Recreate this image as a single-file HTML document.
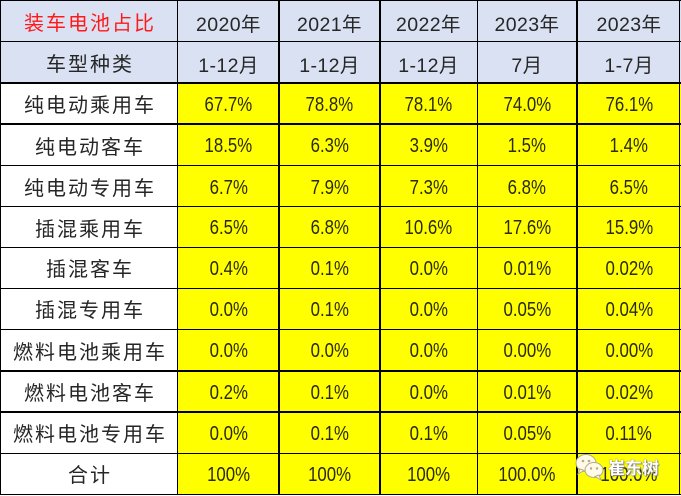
<!DOCTYPE html>
<html><head><meta charset="utf-8">
<style>
html,body{margin:0;padding:0;background:#fff;}
#wrap{position:relative;width:681px;height:496px;overflow:hidden;background:#fff;}
.c{position:absolute;display:flex;align-items:center;justify-content:center;box-sizing:border-box;padding-top:3px;}
.h{background:#D9E1F2;}
.y{background:#FFFF00;}
.w{background:#fff;}
.lab{font-family:"Liberation Sans","Noto Sans CJK SC",sans-serif;font-size:20px;letter-spacing:2px;padding-left:2px;padding-top:0;color:#262626;}
.red{color:#FF1A1A;padding-top:2px;}
.hd{font-family:"Liberation Sans","Noto Sans CJK SC",sans-serif;font-size:19.5px;letter-spacing:0.4px;color:#262626;}
.n{font-family:"Liberation Sans","Noto Sans CJK SC",sans-serif;font-size:20px;color:#2a2a10;}
.n span{display:inline-block;transform:scaleX(0.84);}
.l{position:absolute;background:#000;}
</style></head><body><div id="wrap">
<!-- header row 1 -->
<div class="c h lab red" style="left:0;top:0;width:178px;height:41px;">装车电池占比</div>
<div class="c h hd" style="left:178px;top:0;width:101px;height:41px;">2020年</div>
<div class="c h hd" style="left:279px;top:0;width:101px;height:41px;">2021年</div>
<div class="c h hd" style="left:380px;top:0;width:97px;height:41px;">2022年</div>
<div class="c h hd" style="left:477px;top:0;width:100px;height:41px;">2023年</div>
<div class="c h hd" style="left:577px;top:0;width:104px;height:41px;">2023年</div>
<!-- header row 2 -->
<div class="c h lab" style="left:0;top:41px;width:178px;height:42px;">车型种类</div>
<div class="c h hd" style="left:178px;top:41px;width:101px;height:42px;">1-12月</div>
<div class="c h hd" style="left:279px;top:41px;width:101px;height:42px;">1-12月</div>
<div class="c h hd" style="left:380px;top:41px;width:97px;height:42px;">1-12月</div>
<div class="c h hd" style="left:477px;top:41px;width:100px;height:42px;">7月</div>
<div class="c h hd" style="left:577px;top:41px;width:104px;height:42px;">1-7月</div>

<!-- data rows -->
<div class="c w lab" style="left:0;top:83px;width:178px;height:41px;">纯电动乘用车</div>
<div class="c y n" style="left:178px;top:83px;width:101px;height:41px;"><span>67.7%</span></div>
<div class="c y n" style="left:279px;top:83px;width:101px;height:41px;"><span>78.8%</span></div>
<div class="c y n" style="left:380px;top:83px;width:97px;height:41px;"><span>78.1%</span></div>
<div class="c y n" style="left:477px;top:83px;width:100px;height:41px;"><span>74.0%</span></div>
<div class="c y n" style="left:577px;top:83px;width:104px;height:41px;"><span>76.1%</span></div>

<div class="c w lab" style="left:0;top:124px;width:178px;height:42px;">纯电动客车</div>
<div class="c y n" style="left:178px;top:124px;width:101px;height:42px;"><span>18.5%</span></div>
<div class="c y n" style="left:279px;top:124px;width:101px;height:42px;"><span>6.3%</span></div>
<div class="c y n" style="left:380px;top:124px;width:97px;height:42px;"><span>3.9%</span></div>
<div class="c y n" style="left:477px;top:124px;width:100px;height:42px;"><span>1.5%</span></div>
<div class="c y n" style="left:577px;top:124px;width:104px;height:42px;"><span>1.4%</span></div>

<div class="c w lab" style="left:0;top:166px;width:178px;height:41px;">纯电动专用车</div>
<div class="c y n" style="left:178px;top:166px;width:101px;height:41px;"><span>6.7%</span></div>
<div class="c y n" style="left:279px;top:166px;width:101px;height:41px;"><span>7.9%</span></div>
<div class="c y n" style="left:380px;top:166px;width:97px;height:41px;"><span>7.3%</span></div>
<div class="c y n" style="left:477px;top:166px;width:100px;height:41px;"><span>6.8%</span></div>
<div class="c y n" style="left:577px;top:166px;width:104px;height:41px;"><span>6.5%</span></div>

<div class="c w lab" style="left:0;top:207px;width:178px;height:40px;">插混乘用车</div>
<div class="c y n" style="left:178px;top:207px;width:101px;height:40px;"><span>6.5%</span></div>
<div class="c y n" style="left:279px;top:207px;width:101px;height:40px;"><span>6.8%</span></div>
<div class="c y n" style="left:380px;top:207px;width:97px;height:40px;"><span>10.6%</span></div>
<div class="c y n" style="left:477px;top:207px;width:100px;height:40px;"><span>17.6%</span></div>
<div class="c y n" style="left:577px;top:207px;width:104px;height:40px;"><span>15.9%</span></div>

<div class="c w lab" style="left:0;top:247px;width:178px;height:41px;">插混客车</div>
<div class="c y n" style="left:178px;top:247px;width:101px;height:41px;"><span>0.4%</span></div>
<div class="c y n" style="left:279px;top:247px;width:101px;height:41px;"><span>0.1%</span></div>
<div class="c y n" style="left:380px;top:247px;width:97px;height:41px;"><span>0.0%</span></div>
<div class="c y n" style="left:477px;top:247px;width:100px;height:41px;"><span>0.01%</span></div>
<div class="c y n" style="left:577px;top:247px;width:104px;height:41px;"><span>0.02%</span></div>

<div class="c w lab" style="left:0;top:288px;width:178px;height:41px;">插混专用车</div>
<div class="c y n" style="left:178px;top:288px;width:101px;height:41px;"><span>0.0%</span></div>
<div class="c y n" style="left:279px;top:288px;width:101px;height:41px;"><span>0.1%</span></div>
<div class="c y n" style="left:380px;top:288px;width:97px;height:41px;"><span>0.0%</span></div>
<div class="c y n" style="left:477px;top:288px;width:100px;height:41px;"><span>0.05%</span></div>
<div class="c y n" style="left:577px;top:288px;width:104px;height:41px;"><span>0.04%</span></div>

<div class="c w lab" style="left:0;top:329px;width:178px;height:42px;">燃料电池乘用车</div>
<div class="c y n" style="left:178px;top:329px;width:101px;height:42px;"><span>0.0%</span></div>
<div class="c y n" style="left:279px;top:329px;width:101px;height:42px;"><span>0.0%</span></div>
<div class="c y n" style="left:380px;top:329px;width:97px;height:42px;"><span>0.0%</span></div>
<div class="c y n" style="left:477px;top:329px;width:100px;height:42px;"><span>0.00%</span></div>
<div class="c y n" style="left:577px;top:329px;width:104px;height:42px;"><span>0.00%</span></div>

<div class="c w lab" style="left:0;top:371px;width:178px;height:41px;">燃料电池客车</div>
<div class="c y n" style="left:178px;top:371px;width:101px;height:41px;"><span>0.2%</span></div>
<div class="c y n" style="left:279px;top:371px;width:101px;height:41px;"><span>0.1%</span></div>
<div class="c y n" style="left:380px;top:371px;width:97px;height:41px;"><span>0.0%</span></div>
<div class="c y n" style="left:477px;top:371px;width:100px;height:41px;"><span>0.01%</span></div>
<div class="c y n" style="left:577px;top:371px;width:104px;height:41px;"><span>0.02%</span></div>

<div class="c w lab" style="left:0;top:412px;width:178px;height:41px;">燃料电池专用车</div>
<div class="c y n" style="left:178px;top:412px;width:101px;height:41px;"><span>0.0%</span></div>
<div class="c y n" style="left:279px;top:412px;width:101px;height:41px;"><span>0.1%</span></div>
<div class="c y n" style="left:380px;top:412px;width:97px;height:41px;"><span>0.1%</span></div>
<div class="c y n" style="left:477px;top:412px;width:100px;height:41px;"><span>0.05%</span></div>
<div class="c y n" style="left:577px;top:412px;width:104px;height:41px;"><span>0.11%</span></div>

<div class="c w lab" style="left:0;top:453px;width:178px;height:41px;">合计</div>
<div class="c y n" style="left:178px;top:453px;width:101px;height:41px;"><span>100%</span></div>
<div class="c y n" style="left:279px;top:453px;width:101px;height:41px;"><span>100%</span></div>
<div class="c y n" style="left:380px;top:453px;width:97px;height:41px;"><span>100%</span></div>
<div class="c y n" style="left:477px;top:453px;width:100px;height:41px;"><span>100.0%</span></div>
<div class="c y n" style="left:577px;top:453px;width:104px;height:41px;"><span>100.0%</span></div>

<!-- horizontal lines -->
<div class="l" style="left:0;top:0;width:681px;height:1px;"></div>
<div class="l" style="left:0;top:41px;width:681px;height:1px;"></div>
<div class="l" style="left:0;top:82px;width:681px;height:2px;"></div>
<div class="l" style="left:0;top:123px;width:681px;height:2px;"></div>
<div class="l" style="left:0;top:165px;width:681px;height:1px;"></div>
<div class="l" style="left:0;top:206px;width:681px;height:1px;"></div>
<div class="l" style="left:0;top:247px;width:681px;height:1px;"></div>
<div class="l" style="left:0;top:288px;width:681px;height:1px;"></div>
<div class="l" style="left:0;top:329px;width:681px;height:1px;"></div>
<div class="l" style="left:0;top:370px;width:681px;height:2px;"></div>
<div class="l" style="left:0;top:411px;width:681px;height:2px;"></div>
<div class="l" style="left:0;top:453px;width:681px;height:1px;"></div>
<div class="l" style="left:0;top:494px;width:681px;height:1px;"></div>
<!-- vertical lines -->
<div class="l" style="left:0;top:0;width:1px;height:495px;"></div>
<div class="l" style="left:177px;top:0;width:1px;height:495px;"></div>
<div class="l" style="left:278px;top:0;width:2px;height:495px;"></div>
<div class="l" style="left:379px;top:0;width:2px;height:495px;"></div>
<div class="l" style="left:477px;top:0;width:1px;height:495px;"></div>
<div class="l" style="left:576px;top:0;width:2px;height:495px;"></div>
<div class="l" style="left:679px;top:0;width:1px;height:495px;"></div>

<!-- watermark -->
<svg style="position:absolute;left:574px;top:452px;" width="32" height="30" viewBox="0 0 32 30">
  <ellipse cx="12" cy="11" rx="10" ry="8.5" fill="#fffbe6" stroke="#b0ab90" stroke-width="1"/>
  <path d="M6 17 L4 22 L10 18.5 Z" fill="#fffbe6" stroke="#b0ab90" stroke-width="1"/>
  <circle cx="9" cy="9" r="1.3" fill="#b0ab90"/><circle cx="15" cy="9" r="1.3" fill="#b0ab90"/>
  <ellipse cx="20" cy="18" rx="9" ry="7.5" fill="#fffbe6" stroke="#b0ab90" stroke-width="1"/>
  <path d="M25 23 L27 28 L21 24.5 Z" fill="#fffbe6" stroke="#b0ab90" stroke-width="1"/>
  <circle cx="17" cy="16.5" r="1.2" fill="#b0ab90"/><circle cx="23" cy="16.5" r="1.2" fill="#b0ab90"/>
</svg>
<div style="position:absolute;left:608px;top:454px;font-family:'Liberation Sans','Noto Sans CJK SC',sans-serif;font-size:17px;font-weight:bold;color:#fff;letter-spacing:0px;text-shadow:0 0 1px #777,0 0 1px #777,1px 1px 1px #888;">崔东树</div>
</div></body></html>
